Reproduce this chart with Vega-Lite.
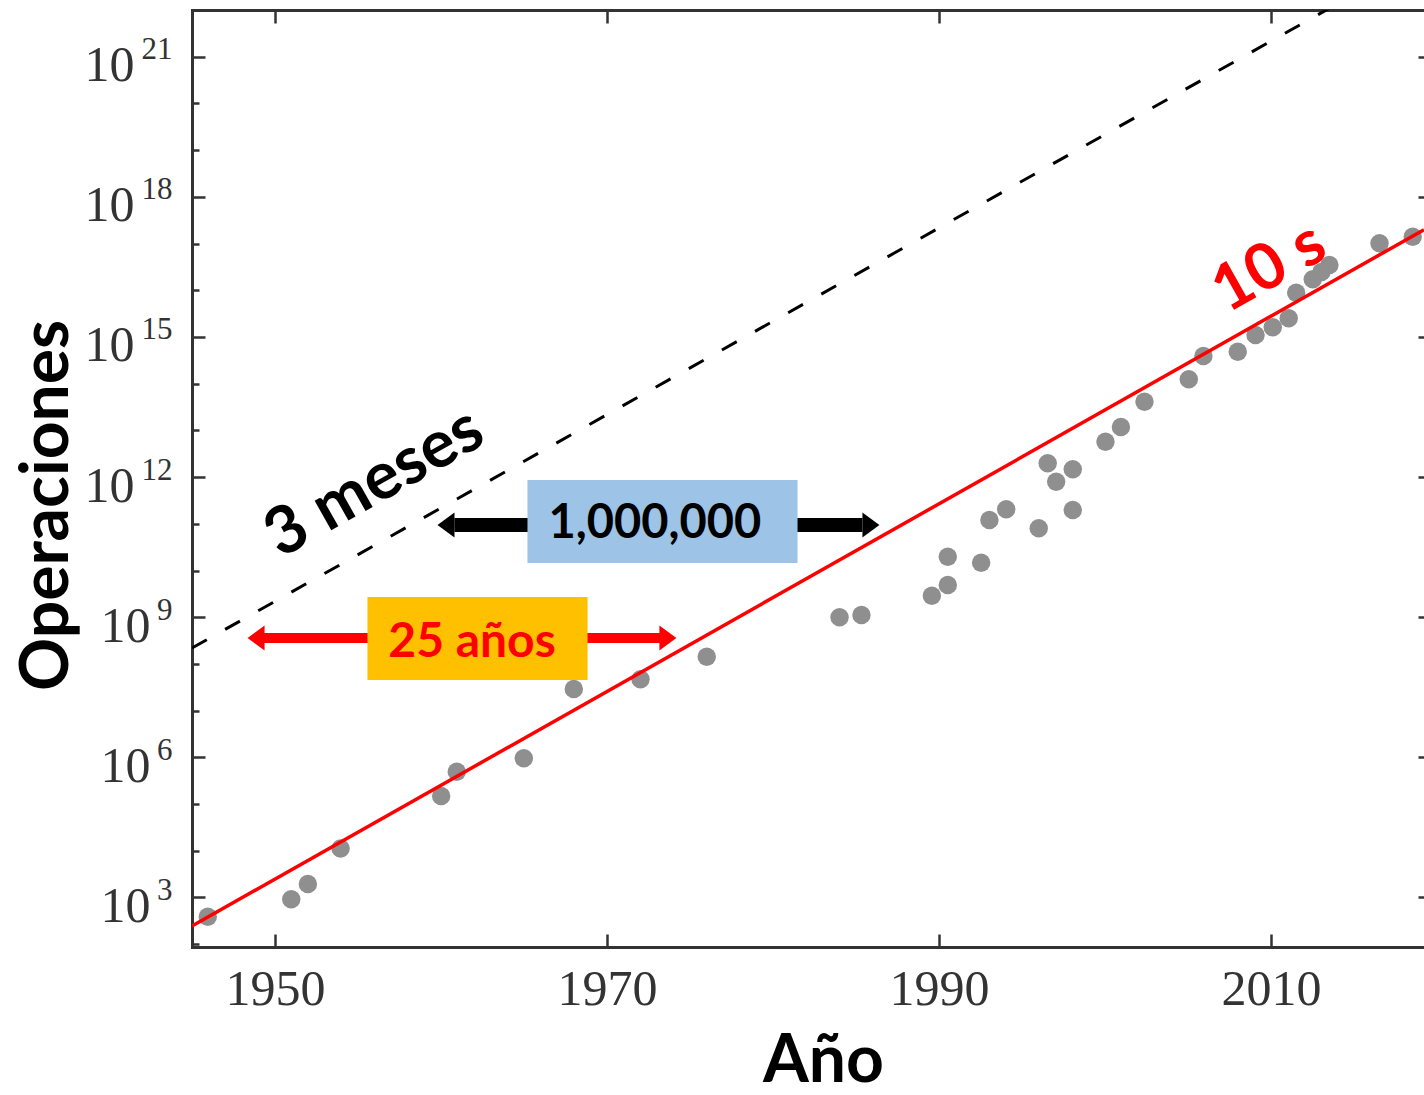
{
  "$schema": "https://vega.github.io/schema/vega-lite/v6.json",
  "autosize": {"type": "none"},
  "padding": {"left": 192, "top": 10, "right": 0, "bottom": 148},
  "width": 1232,
  "height": 937,
  "background": "white",
  "config": {
    "view": {"stroke": null},
    "axis": {
      "grid": false,
      "domainColor": "#333333",
      "domainWidth": 3,
      "domainCap": "square",
      "tickColor": "#333333",
      "tickWidth": 2.5,
      "labelFont": "Liberation Serif",
      "labelFontSize": 50,
      "labelColor": "#333333",
      "titleFont": "Lato",
      "titleFontWeight": "bold",
      "titleFontSize": 66,
      "titleColor": "#000000"
    }
  },
  "resolve": {"axis": {"x": "independent", "y": "independent"}, "scale": {"color": "independent"}},
  "layer": [
    {
      "data": {"values": [
        {"anio": 1945.95, "ops": 388},
        {"anio": 1950.98, "ops": 914},
        {"anio": 1951.98, "ops": 1945},
        {"anio": 1953.95, "ops": 11190},
        {"anio": 1960.01, "ops": 148900},
        {"anio": 1960.95, "ops": 493000},
        {"anio": 1964.99, "ops": 955000},
        {"anio": 1968.0, "ops": 2.91e7},
        {"anio": 1972.02, "ops": 4.69e7},
        {"anio": 1976.01, "ops": 1.429e8},
        {"anio": 1984.01, "ops": 9.98e8},
        {"anio": 1985.33, "ops": 1.117e9},
        {"anio": 1989.57, "ops": 2.89e9},
        {"anio": 1990.53, "ops": 4.9e9},
        {"anio": 1990.53, "ops": 1.977e10},
        {"anio": 1992.54, "ops": 1.469e10},
        {"anio": 1993.04, "ops": 1.208e11},
        {"anio": 1994.05, "ops": 2.046e11},
        {"anio": 1996.01, "ops": 8.02e10},
        {"anio": 1996.55, "ops": 1.972e12},
        {"anio": 1997.06, "ops": 7.98e11},
        {"anio": 1998.06, "ops": 1.469e12},
        {"anio": 1998.06, "ops": 1.977e11},
        {"anio": 2000.03, "ops": 5.73e12},
        {"anio": 2000.96, "ops": 1.183e13},
        {"anio": 2002.38, "ops": 4.11e13},
        {"anio": 2005.05, "ops": 1.242e14},
        {"anio": 2005.93, "ops": 3.92e14},
        {"anio": 2008.0, "ops": 4.84e14},
        {"anio": 2009.07, "ops": 1.102e15},
        {"anio": 2010.11, "ops": 1.611e15},
        {"anio": 2011.07, "ops": 2.51e15},
        {"anio": 2011.52, "ops": 8.87e15},
        {"anio": 2012.52, "ops": 1.718e16},
        {"anio": 2013.04, "ops": 2.46e16},
        {"anio": 2013.52, "ops": 3.48e16},
        {"anio": 2016.54, "ops": 1.012e17},
        {"anio": 2018.54, "ops": 1.403e17}
      ]},
      "mark": {"type": "circle", "size": 340, "color": "#8F8F8F", "opacity": 1},
      "encoding": {
        "x": {
          "field": "anio", "type": "quantitative",
          "scale": {"domain": [1945, 2019.22], "nice": false, "zero": false},
          "axis": {
            "orient": "bottom", "title": "Año",
            "values": [1950, 1970, 1990, 2010], "format": "d",
            "tickSize": -13, "labelPadding": 30,
            "titleX": 631, "titleY": 134, "titleBaseline": "alphabetic", "titleAnchor": null, "titleAlign": "center"
          }
        },
        "y": {
          "field": "ops", "type": "quantitative",
          "scale": {"type": "log", "domain": [87.1, 1e22], "nice": false, "zero": false},
          "axis": {
            "orient": "left", "title": "Operaciones",
            "values": [1e3, 1e6, 1e9, 1e12, 1e15, 1e18, 1e21],
            "labelExpr": "datum.value > 5e11 ? '10' : ''",
            "tickSize": -13, "labelPadding": 71, "labelOffset": 9,
            "titleX": -145, "titleY": 495, "titleAngle": -90, "titleBaseline": "middle", "titleAlign": "center", "titleAnchor": null
          }
        }
      }
    },
    {
      "data": {"values": [
        {"anio": 1945, "ops": 2.19e8},
        {"anio": 2019.22, "ops": 1.5e23}
      ]},
      "mark": {"type": "line", "color": "#000000", "strokeWidth": 3, "strokeDash": [17, 21], "clip": true},
      "encoding": {
        "x": {
          "field": "anio", "type": "quantitative",
          "scale": {"domain": [1945, 2019.22], "nice": false, "zero": false},
          "axis": {"orient": "top", "title": null, "values": [1950, 1970, 1990, 2010], "labels": false, "tickSize": -13}
        },
        "y": {
          "field": "ops", "type": "quantitative",
          "scale": {"type": "log", "domain": [87.1, 1e22], "nice": false, "zero": false},
          "axis": {"orient": "right", "title": null, "values": [1e3, 1e6, 1e9, 1e12, 1e15, 1e18, 1e21], "labels": false, "domain": false, "tickSize": -6}
        }
      }
    },
    {
      "data": {"values": [
        {"anio": 1945, "ops": 245},
        {"anio": 2019.22, "ops": 1.98e17}
      ]},
      "mark": {"type": "line", "color": "#FF0000", "strokeWidth": 3.5, "clip": true},
      "encoding": {
        "x": {"field": "anio", "type": "quantitative", "scale": {"domain": [1945, 2019.22], "nice": false, "zero": false}, "axis": null},
        "y": {
          "field": "ops", "type": "quantitative",
          "scale": {"type": "log", "domain": [87.1, 1e22], "nice": false, "zero": false},
          "axis": {"orient": "left", "title": null, "values": [1e2, 1e4, 1e5, 1e7, 1e8, 1e10, 1e11, 1e13, 1e14, 1e16, 1e17, 1e19, 1e20], "labels": false, "domain": false, "tickSize": -7}
        }
      }
    },
    {
      "data": {"values": [
        {"flecha": "negro", "desde": 1960.81, "hasta": 1985.39, "ops": 9.44e10},
        {"flecha": "rojo", "desde": 1949.25, "hasta": 1973.28, "ops": 3.59e8}
      ]},
      "mark": {"type": "rule"},
      "encoding": {
        "x": {"field": "desde", "type": "quantitative", "scale": {"domain": [1945, 2019.22], "nice": false, "zero": false}, "axis": null},
        "x2": {"field": "hasta"},
        "y": {
          "field": "ops", "type": "quantitative",
          "scale": {"type": "log", "domain": [87.1, 1e22], "nice": false, "zero": false},
          "axis": {
            "orient": "left", "title": null, "values": [1e3, 1e6, 1e9],
            "labelExpr": "'10'", "ticks": false, "domain": false, "labelPadding": 42, "labelOffset": 9
          }
        },
        "color": {"field": "flecha", "type": "nominal", "scale": {"domain": ["negro", "rojo"], "range": ["#000000", "#FF0000"]}, "legend": null},
        "strokeWidth": {"field": "flecha", "type": "nominal", "scale": {"domain": ["negro", "rojo"], "range": [14, 10]}, "legend": null}
      }
    },
    {
      "data": {"values": [
        {"caja": "azul", "x1": 1965.21, "x2": 1981.48, "y1": 8.67e11, "y2": 1.449e10},
        {"caja": "naranja", "x1": 1955.57, "x2": 1968.83, "y1": 2.71e9, "y2": 4.53e7}
      ]},
      "mark": {"type": "rect"},
      "encoding": {
        "x": {"field": "x1", "type": "quantitative", "scale": {"domain": [1945, 2019.22], "nice": false, "zero": false}, "axis": null},
        "x2": {"field": "x2"},
        "y": {
          "field": "y1", "type": "quantitative",
          "scale": {"type": "log", "domain": [87.1, 1e22], "nice": false, "zero": false},
          "axis": {
            "orient": "left", "title": null, "values": [1e3, 1e6, 1e9, 1e12, 1e15, 1e18, 1e21],
            "labelExpr": "datum.value > 5e20 ? '21' : datum.value > 5e17 ? '18' : datum.value > 5e14 ? '15' : datum.value > 5e11 ? '12' : datum.value > 5e8 ? '9' : datum.value > 5e5 ? '6' : '3'",
            "ticks": false, "domain": false, "labelFontSize": 31, "labelPadding": 20, "labelOffset": -7
          }
        },
        "y2": {"field": "y2"},
        "color": {"field": "caja", "type": "nominal", "scale": {"domain": ["azul", "naranja"], "range": ["#9DC3E6", "#FFC000"]}, "legend": null}
      }
    },
    {
      "data": {"values": [
        {"flecha": "negro", "anio": 1960.30, "ops": 9.44e10},
        {"flecha": "rojo", "anio": 1948.86, "ops": 3.59e8}
      ]},
      "mark": {"type": "point", "filled": true, "opacity": 1, "size": 625, "shape": "M0.68,-1L-0.68,0L0.68,1Z"},
      "encoding": {
        "x": {"field": "anio", "type": "quantitative", "scale": {"domain": [1945, 2019.22], "nice": false, "zero": false}, "axis": null},
        "y": {"field": "ops", "type": "quantitative", "scale": {"type": "log", "domain": [87.1, 1e22], "nice": false, "zero": false}, "axis": null},
        "color": {"field": "flecha", "type": "nominal", "scale": {"domain": ["negro", "rojo"], "range": ["#000000", "#FF0000"]}, "legend": null}
      }
    },
    {
      "data": {"values": [
        {"flecha": "negro", "anio": 1985.90, "ops": 9.44e10},
        {"flecha": "rojo", "anio": 1973.67, "ops": 3.59e8}
      ]},
      "mark": {"type": "point", "filled": true, "opacity": 1, "size": 625, "shape": "M-0.68,-1L0.68,0L-0.68,1Z"},
      "encoding": {
        "x": {"field": "anio", "type": "quantitative", "scale": {"domain": [1945, 2019.22], "nice": false, "zero": false}, "axis": null},
        "y": {"field": "ops", "type": "quantitative", "scale": {"type": "log", "domain": [87.1, 1e22], "nice": false, "zero": false}, "axis": null},
        "color": {"field": "flecha", "type": "nominal", "scale": {"domain": ["negro", "rojo"], "range": ["#000000", "#FF0000"]}, "legend": null}
      }
    },
    {
      "data": {"values": [{"texto": "1,000,000", "anio": 1972.89, "ops": 4.97e10}]},
      "mark": {"type": "text", "font": "Lato", "fontWeight": "bold", "fontSize": 47, "color": "#000000", "align": "center", "baseline": "alphabetic"},
      "encoding": {
        "x": {"field": "anio", "type": "quantitative", "scale": {"domain": [1945, 2019.22], "nice": false, "zero": false}, "axis": null},
        "y": {"field": "ops", "type": "quantitative", "scale": {"type": "log", "domain": [87.1, 1e22], "nice": false, "zero": false}, "axis": null},
        "text": {"field": "texto"}
      }
    },
    {
      "data": {"values": [{"texto": "25 años", "anio": 1961.87, "ops": 1.429e8}]},
      "mark": {"type": "text", "font": "Lato", "fontWeight": "bold", "fontSize": 48, "color": "#FF0000", "align": "center", "baseline": "alphabetic"},
      "encoding": {
        "x": {"field": "anio", "type": "quantitative", "scale": {"domain": [1945, 2019.22], "nice": false, "zero": false}, "axis": null},
        "y": {"field": "ops", "type": "quantitative", "scale": {"type": "log", "domain": [87.1, 1e22], "nice": false, "zero": false}, "axis": null},
        "text": {"field": "texto"}
      }
    },
    {
      "data": {"values": [{"texto": "3 meses", "anio": 1955.99, "ops": 7.48e11}]},
      "mark": {"type": "text", "font": "Lato", "fontWeight": "bold", "fontSize": 66, "color": "#000000", "align": "center", "baseline": "middle", "angle": 330.6},
      "encoding": {
        "x": {"field": "anio", "type": "quantitative", "scale": {"domain": [1945, 2019.22], "nice": false, "zero": false}, "axis": null},
        "y": {"field": "ops", "type": "quantitative", "scale": {"type": "log", "domain": [87.1, 1e22], "nice": false, "zero": false}, "axis": null},
        "text": {"field": "texto"}
      }
    },
    {
      "data": {"values": [{"texto": "10 s", "anio": 2009.91, "ops": 3.0e16}]},
      "mark": {"type": "text", "font": "Lato", "fontWeight": "bold", "fontSize": 64, "color": "#FF0000", "align": "center", "baseline": "middle", "angle": 330.6},
      "encoding": {
        "x": {"field": "anio", "type": "quantitative", "scale": {"domain": [1945, 2019.22], "nice": false, "zero": false}, "axis": null},
        "y": {"field": "ops", "type": "quantitative", "scale": {"type": "log", "domain": [87.1, 1e22], "nice": false, "zero": false}, "axis": null},
        "text": {"field": "texto"}
      }
    }
  ]
}
